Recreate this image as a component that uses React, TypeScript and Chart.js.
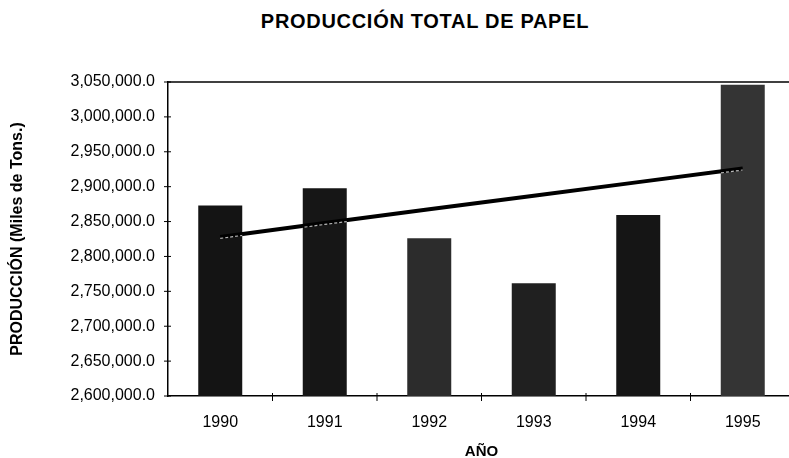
import React, { useEffect, useRef } from "react";
import { Chart, registerables } from "chart.js";

Chart.register(...registerables);

// ---- data ----
const TITLE = "PRODUCCIÓN TOTAL DE PAPEL";
const Y_TITLE = "PRODUCCIÓN (Miles de Tons.)";
const X_TITLE = "AÑO";
const years = ["1990", "1991", "1992", "1993", "1994", "1995"];
const production = [2873000, 2897700, 2826000, 2761500, 2859400, 3046000];
const trend = [2828000, 2848000, 2867500, 2887000, 2906500, 2926000];
const barColors = ["#141414", "#161616", "#2c2c2c", "#202020", "#151515", "#343434"];
const Y_MIN = 2600000;
const Y_MAX = 3050000;
const Y_STEP = 50000;

const FONT = "'Liberation Sans', Arial, Helvetica, sans-serif";

const decorPlugin = {
  id: "decor",
  afterDatasetsDraw(chart: any) {
    const ctx = chart.ctx;
    const lineMeta = chart.getDatasetMeta(0);
    const barMeta = chart.getDatasetMeta(1);
    barMeta.data.forEach((bar: any) => {
      const { x, y, base, width } = bar.getProps(["x", "y", "base", "width"], true);
      ctx.save();
      ctx.beginPath();
      ctx.rect(x - width / 2, y, width, base - y);
      ctx.clip();
      ctx.beginPath();
      lineMeta.data.forEach((p: any, i: number) => {
        if (i === 0) ctx.moveTo(p.x, p.y + 1.5);
        else ctx.lineTo(p.x, p.y + 1.5);
      });
      ctx.strokeStyle = "rgba(215,215,215,0.85)";
      ctx.lineWidth = 1.2;
      ctx.setLineDash([3, 2]);
      ctx.stroke();
      ctx.restore();
    });
  },
  afterDraw(chart: any) {
    const { ctx, chartArea: a, scales } = chart;
    const xs = scales.x;
    const ys = scales.y;
    ctx.save();
    ctx.strokeStyle = "#000";
    ctx.lineWidth = 1.5;
    ctx.beginPath();
    ctx.moveTo(a.left, a.top);
    ctx.lineTo(a.right, a.top);
    ctx.stroke();
    ctx.lineWidth = 1;
    ctx.beginPath();
    ys.ticks.forEach((t: any) => {
      const py = ys.getPixelForValue(t.value);
      ctx.moveTo(a.left - 4, py);
      ctx.lineTo(a.left + 3, py);
    });
    for (let i = 1; i < xs.ticks.length; i++) {
      const px = (xs.getPixelForTick(i - 1) + xs.getPixelForTick(i)) / 2;
      ctx.moveTo(px, a.bottom - 3);
      ctx.lineTo(px, a.bottom + 5);
    }
    ctx.stroke();
    ctx.restore();
  },
};

export default function App() {
  const ref = useRef<HTMLCanvasElement | null>(null);

  useEffect(() => {
    if (!ref.current) return;
    const chart = new Chart(ref.current, {
      type: "bar",
      data: {
        labels: years,
        datasets: [
          {
            type: "line",
            label: "Tendencia",
            data: trend,
            borderColor: "#000",
            borderWidth: 4,
            pointRadius: 0,
            fill: false,
            tension: 0,
            order: 0,
          } as any,
          {
            type: "bar",
            label: "Producción",
            data: production,
            backgroundColor: barColors,
            borderWidth: 0,
            categoryPercentage: 1,
            barPercentage: 0.421,
            order: 1,
          } as any,
        ],
      },
      options: {
        animation: false,
        responsive: false,
        devicePixelRatio: 1,
        layout: { padding: { top: 82, right: 15, bottom: 0, left: 0 } },
        plugins: {
          legend: { display: false },
          tooltip: { enabled: false },
          title: { display: false },
        },
        scales: {
          x: {
            offset: true,
            grid: { display: false, drawTicks: false },
            border: { display: true, color: "#000", width: 1.5 },
            ticks: {
              color: "#000",
              font: { family: FONT, size: 16 },
              padding: 17,
              maxRotation: 0,
              autoSkip: false,
            },
            title: {
              display: true,
              text: X_TITLE,
              color: "#000",
              font: { family: FONT, size: 15, weight: "bold", lineHeight: 0.8 },
              padding: 0,
            },
            afterFit: (s: any) => {
              s.height = 62;
            },
          },
          y: {
            min: Y_MIN,
            max: Y_MAX,
            grid: { display: false, drawTicks: false },
            border: { display: true, color: "#000", width: 1.5 },
            ticks: {
              stepSize: Y_STEP,
              color: "#000",
              font: { family: FONT, size: 16 },
              padding: 13,
              callback: (v: any) =>
                Number(v).toLocaleString("en-US", {
                  minimumFractionDigits: 1,
                  maximumFractionDigits: 1,
                }),
            },
            title: {
              display: true,
              text: Y_TITLE,
              color: "#000",
              font: { family: FONT, size: 16, weight: "bold" },
              padding: { top: 8, bottom: 0 },
            },
            afterFit: (s: any) => {
              s.width = 168;
            },
          },
        },
      } as any,
      plugins: [decorPlugin],
    });
    return () => chart.destroy();
  }, []);

  return (
    <div
      style={{
        position: "fixed",
        left: 0,
        top: 0,
        width: 789,
        height: 458,
        overflow: "hidden",
        background: "#fff",
      }}
    >
      <div
        style={{
          position: "absolute",
          left: 0,
          top: 11,
          width: 850,
          textAlign: "center",
          fontFamily: FONT,
          fontWeight: "bold",
          fontSize: 20,
          lineHeight: "20px",
          letterSpacing: "0.7px",
          color: "#000",
          whiteSpace: "nowrap",
        }}
      >
        {TITLE}
      </div>
      <canvas
        ref={ref}
        width={810}
        height={458}
        style={{ position: "absolute", left: 0, top: 0, display: "block" }}
      />
    </div>
  );
}
